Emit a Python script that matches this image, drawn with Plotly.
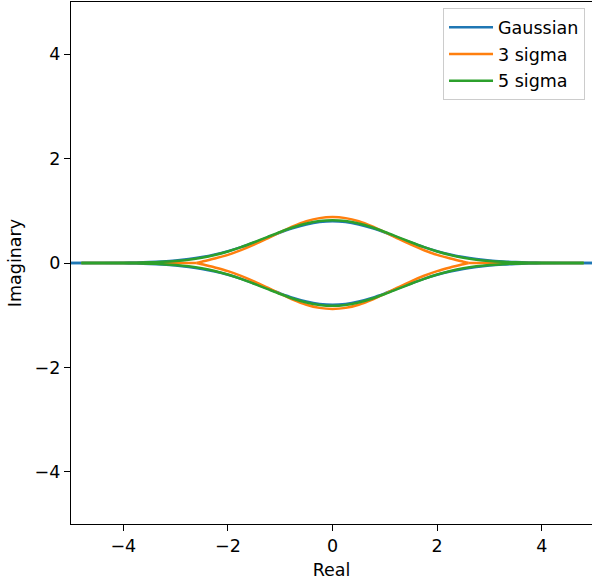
import plotly.graph_objects as go

# ---- data (upper branch, x >= 0; curves are symmetric) ----
real_g = [0.0, 0.25, 0.5, 0.75, 1.0, 1.25, 1.5, 1.75, 2.0, 2.25, 2.5, 2.75,
          3.0, 3.25, 3.5, 3.75, 4.0, 4.5, 5.0]
imag_gaussian = [0.800, 0.784, 0.738, 0.668, 0.582, 0.487, 0.392, 0.303, 0.226,
                 0.163, 0.113, 0.076, 0.049, 0.031, 0.019, 0.011, 0.006, 0.002, 0.0005]

real_5s = [0.0, 0.25, 0.5, 0.75, 1.0, 1.25, 1.5, 1.75, 2.0, 2.25, 2.5, 2.75,
           3.0, 3.25, 3.5, 3.75, 4.0, 4.5, 4.8]
imag_5sigma = [0.820, 0.803, 0.756, 0.684, 0.594, 0.496, 0.397, 0.303, 0.220,
               0.152, 0.100, 0.063, 0.038, 0.022, 0.012, 0.006, 0.003, 0.0005, 0.0]

real_3s = [0.0, 0.25, 0.5, 0.75, 1.0, 1.25, 1.5, 1.75, 2.0, 2.25, 2.5, 2.6]
imag_3sigma = [0.880, 0.860, 0.800, 0.706, 0.590, 0.468, 0.350, 0.245, 0.155,
               0.085, 0.025, 0.0]
real_3s_tail = [2.6, 4.8]
imag_3s_tail = [0.0, 0.0]

series_names = ["Gaussian", "3 sigma", "5 sigma"]
colors = ["#1f77b4", "#ff7f0e", "#2ca02c"]


def full_branch(xs, ys):
    """Mirror a half branch (x>=0) into a full branch from -x_max to x_max."""
    x = [-v for v in reversed(xs[1:])] + list(xs)
    y = list(reversed(ys[1:])) + list(ys)
    return x, y


def loop(xs, ys):
    """Upper branch and lower (conjugate) branch separated by a gap."""
    x, y = full_branch(xs, ys)
    return x + [None] + x, y + [None] + [-v for v in y]


font = dict(family="DejaVu Sans", size=17.5, color="black")
fig = go.Figure()

# Gaussian
gx, gy = loop(real_g, imag_gaussian)
fig.add_trace(go.Scatter(x=gx, y=gy, mode="lines", name=series_names[0],
                         line=dict(color=colors[0], width=2.5, shape="spline", smoothing=0.8),
                         legendgroup="a"))

# 3 sigma: lobe plus flat tails
ox, oy = loop(real_3s, imag_3sigma)
tx = [-v for v in reversed(real_3s_tail)] + [None] + real_3s_tail
ty = list(reversed(imag_3s_tail)) + [None] + imag_3s_tail
fig.add_trace(go.Scatter(x=ox + [None] + tx, y=oy + [None] + ty, mode="lines",
                         name=series_names[1],
                         line=dict(color=colors[1], width=2.5, shape="spline", smoothing=0.8),
                         legendgroup="b"))

# 5 sigma
fx, fy = loop(real_5s, imag_5sigma)
fig.add_trace(go.Scatter(x=fx, y=fy, mode="lines", name=series_names[2],
                         line=dict(color=colors[2], width=2.5, shape="spline", smoothing=0.8),
                         legendgroup="c"))

axis_common = dict(
    showgrid=False, zeroline=False, showline=True, linecolor="black", linewidth=1.3,
    ticks="outside", ticklen=6, tickwidth=1.3, tickcolor="black",
    tickvals=[-4, -2, 0, 2, 4], tickfont=font,
)

fig.update_layout(
    width=592, height=586,
    margin=dict(l=71, r=0, t=2, b=62),
    paper_bgcolor="white", plot_bgcolor="white",
    font=font,
    xaxis=dict(range=[-5, 4.96], mirror=True,
               title=dict(text="Real", font=font, standoff=8), **axis_common),
    yaxis=dict(range=[-5, 5], mirror=False,
               title=dict(text="Imaginary", font=font, standoff=8), **axis_common),
    legend=dict(x=0.9866, xanchor="right", y=0.988, yanchor="top",
                bgcolor="rgba(255,255,255,0.8)", bordercolor="#cccccc", borderwidth=1,
                font=font, traceorder="grouped", tracegroupgap=1, itemwidth=44),
    showlegend=True,
)

fig.write_html("out.html", config={"displayModeBar": False},
               post_script="document.body.style.margin='0';document.body.style.overflow='hidden';")
